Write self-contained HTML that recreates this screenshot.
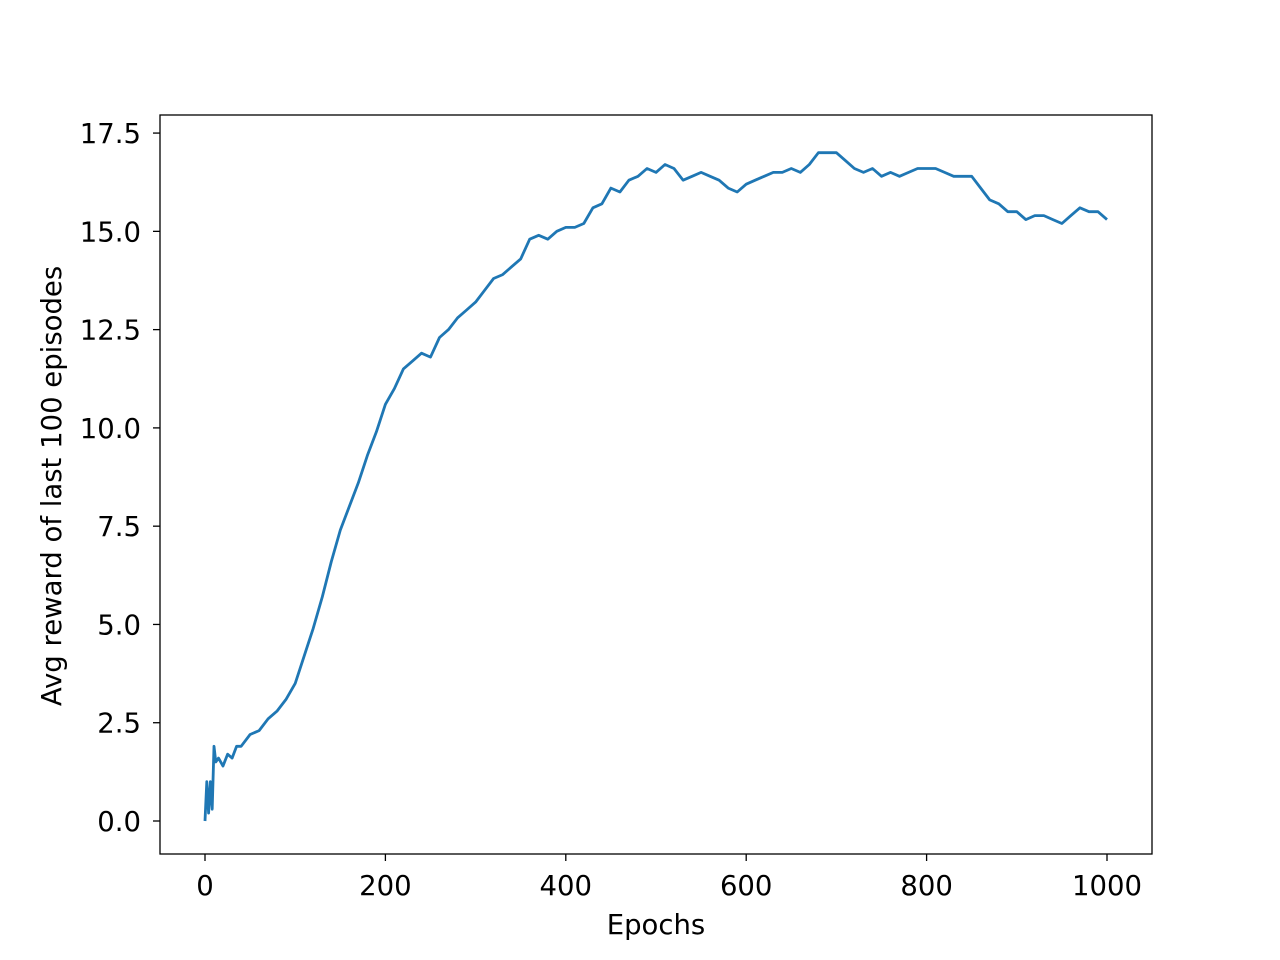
<!DOCTYPE html>
<html><head><meta charset="utf-8"><style>
html,body{margin:0;padding:0;background:#fff;}
svg{display:block;font-family:"DejaVu Sans","Liberation Sans",sans-serif;}
</style></head><body>
<svg id="chart" width="1280" height="960">
<rect x="0" y="0" width="1280" height="960" fill="#fff"/>
<g id="ticks"></g>
<path id="line" fill="none" stroke="#1f77b4" stroke-width="2.8" stroke-linejoin="round"/>
<rect x="160" y="115" width="992" height="739" fill="none" stroke="#000" stroke-width="1.3"/>
<text x="656" y="934" font-size="27.5" text-anchor="middle">Epochs</text>
<text transform="translate(61,486) rotate(-90)" font-size="27.5" text-anchor="middle">Avg reward of last 100 episodes</text>
</svg>
<script>
const epochs=[0,2,4,6,8,10,12,15,20,25,30,35,40,50,60,70,80,90,100,110,120,130,140,150,160,170,180,190,200,210,220,230,240,250,260,270,280,290,300,310,320,330,340,350,360,370,380,390,400,410,420,430,440,450,460,470,480,490,500,510,520,530,540,550,560,570,580,590,600,610,620,630,640,650,660,670,680,690,700,710,720,730,740,750,760,770,780,790,800,810,820,830,840,850,860,870,880,890,900,910,920,930,940,950,960,970,980,990,1000];
const rewards=[0,1.0,0.2,1.0,0.3,1.9,1.5,1.6,1.4,1.7,1.6,1.9,1.9,2.2,2.3,2.6,2.8,3.1,3.5,4.2,4.9,5.7,6.6,7.4,8.0,8.6,9.3,9.9,10.6,11.0,11.5,11.7,11.9,11.8,12.3,12.5,12.8,13.0,13.2,13.5,13.8,13.9,14.1,14.3,14.8,14.9,14.8,15.0,15.1,15.1,15.2,15.6,15.7,16.1,16.0,16.3,16.4,16.6,16.5,16.7,16.6,16.3,16.4,16.5,16.4,16.3,16.1,16.0,16.2,16.3,16.4,16.5,16.5,16.6,16.5,16.7,17.0,17.0,17.0,16.8,16.6,16.5,16.6,16.4,16.5,16.4,16.5,16.6,16.6,16.6,16.5,16.4,16.4,16.4,16.1,15.8,15.7,15.5,15.5,15.3,15.4,15.4,15.3,15.2,15.4,15.6,15.5,15.5,15.3];
const xTicks=[0,200,400,600,800,1000];
const yTicks=[0,2.5,5,7.5,10,12.5,15,17.5];
const xs=v=>205+v*0.902;
const ys=v=>821-v*39.31;
const ns="http://www.w3.org/2000/svg";
const g=document.getElementById('ticks');
let d='';
epochs.forEach((e,i)=>{d+=(i?'L':'M')+xs(e).toFixed(1)+' '+ys(rewards[i]).toFixed(1);});
document.getElementById('line').setAttribute('d',d);
xTicks.forEach(t=>{
 const l=document.createElementNS(ns,'line');
 l.setAttribute('x1',xs(t));l.setAttribute('x2',xs(t));l.setAttribute('y1',854);l.setAttribute('y2',861);l.setAttribute('stroke','#000');l.setAttribute('stroke-width','1.3');
 
 
 g.appendChild(l);
 const tx=document.createElementNS(ns,'text');
 tx.setAttribute('x',xs(t));tx.setAttribute('y',895);tx.setAttribute('font-size','27.5');tx.setAttribute('text-anchor','middle');
 tx.textContent=t;
 
 
 g.appendChild(tx);
});
yTicks.forEach(t=>{
 const l=document.createElementNS(ns,'line');
 l.setAttribute('x1',153);l.setAttribute('x2',160);l.setAttribute('y1',ys(t));l.setAttribute('y2',ys(t));l.setAttribute('stroke','#000');l.setAttribute('stroke-width','1.3');
 
 
 g.appendChild(l);
 const tx=document.createElementNS(ns,'text');
 tx.setAttribute('x',141);tx.setAttribute('y',ys(t)+10);tx.setAttribute('font-size','27.5');tx.setAttribute('text-anchor','end');
 tx.textContent=t.toFixed(1);
 
 
 g.appendChild(tx);
});
</script>
</body></html>
